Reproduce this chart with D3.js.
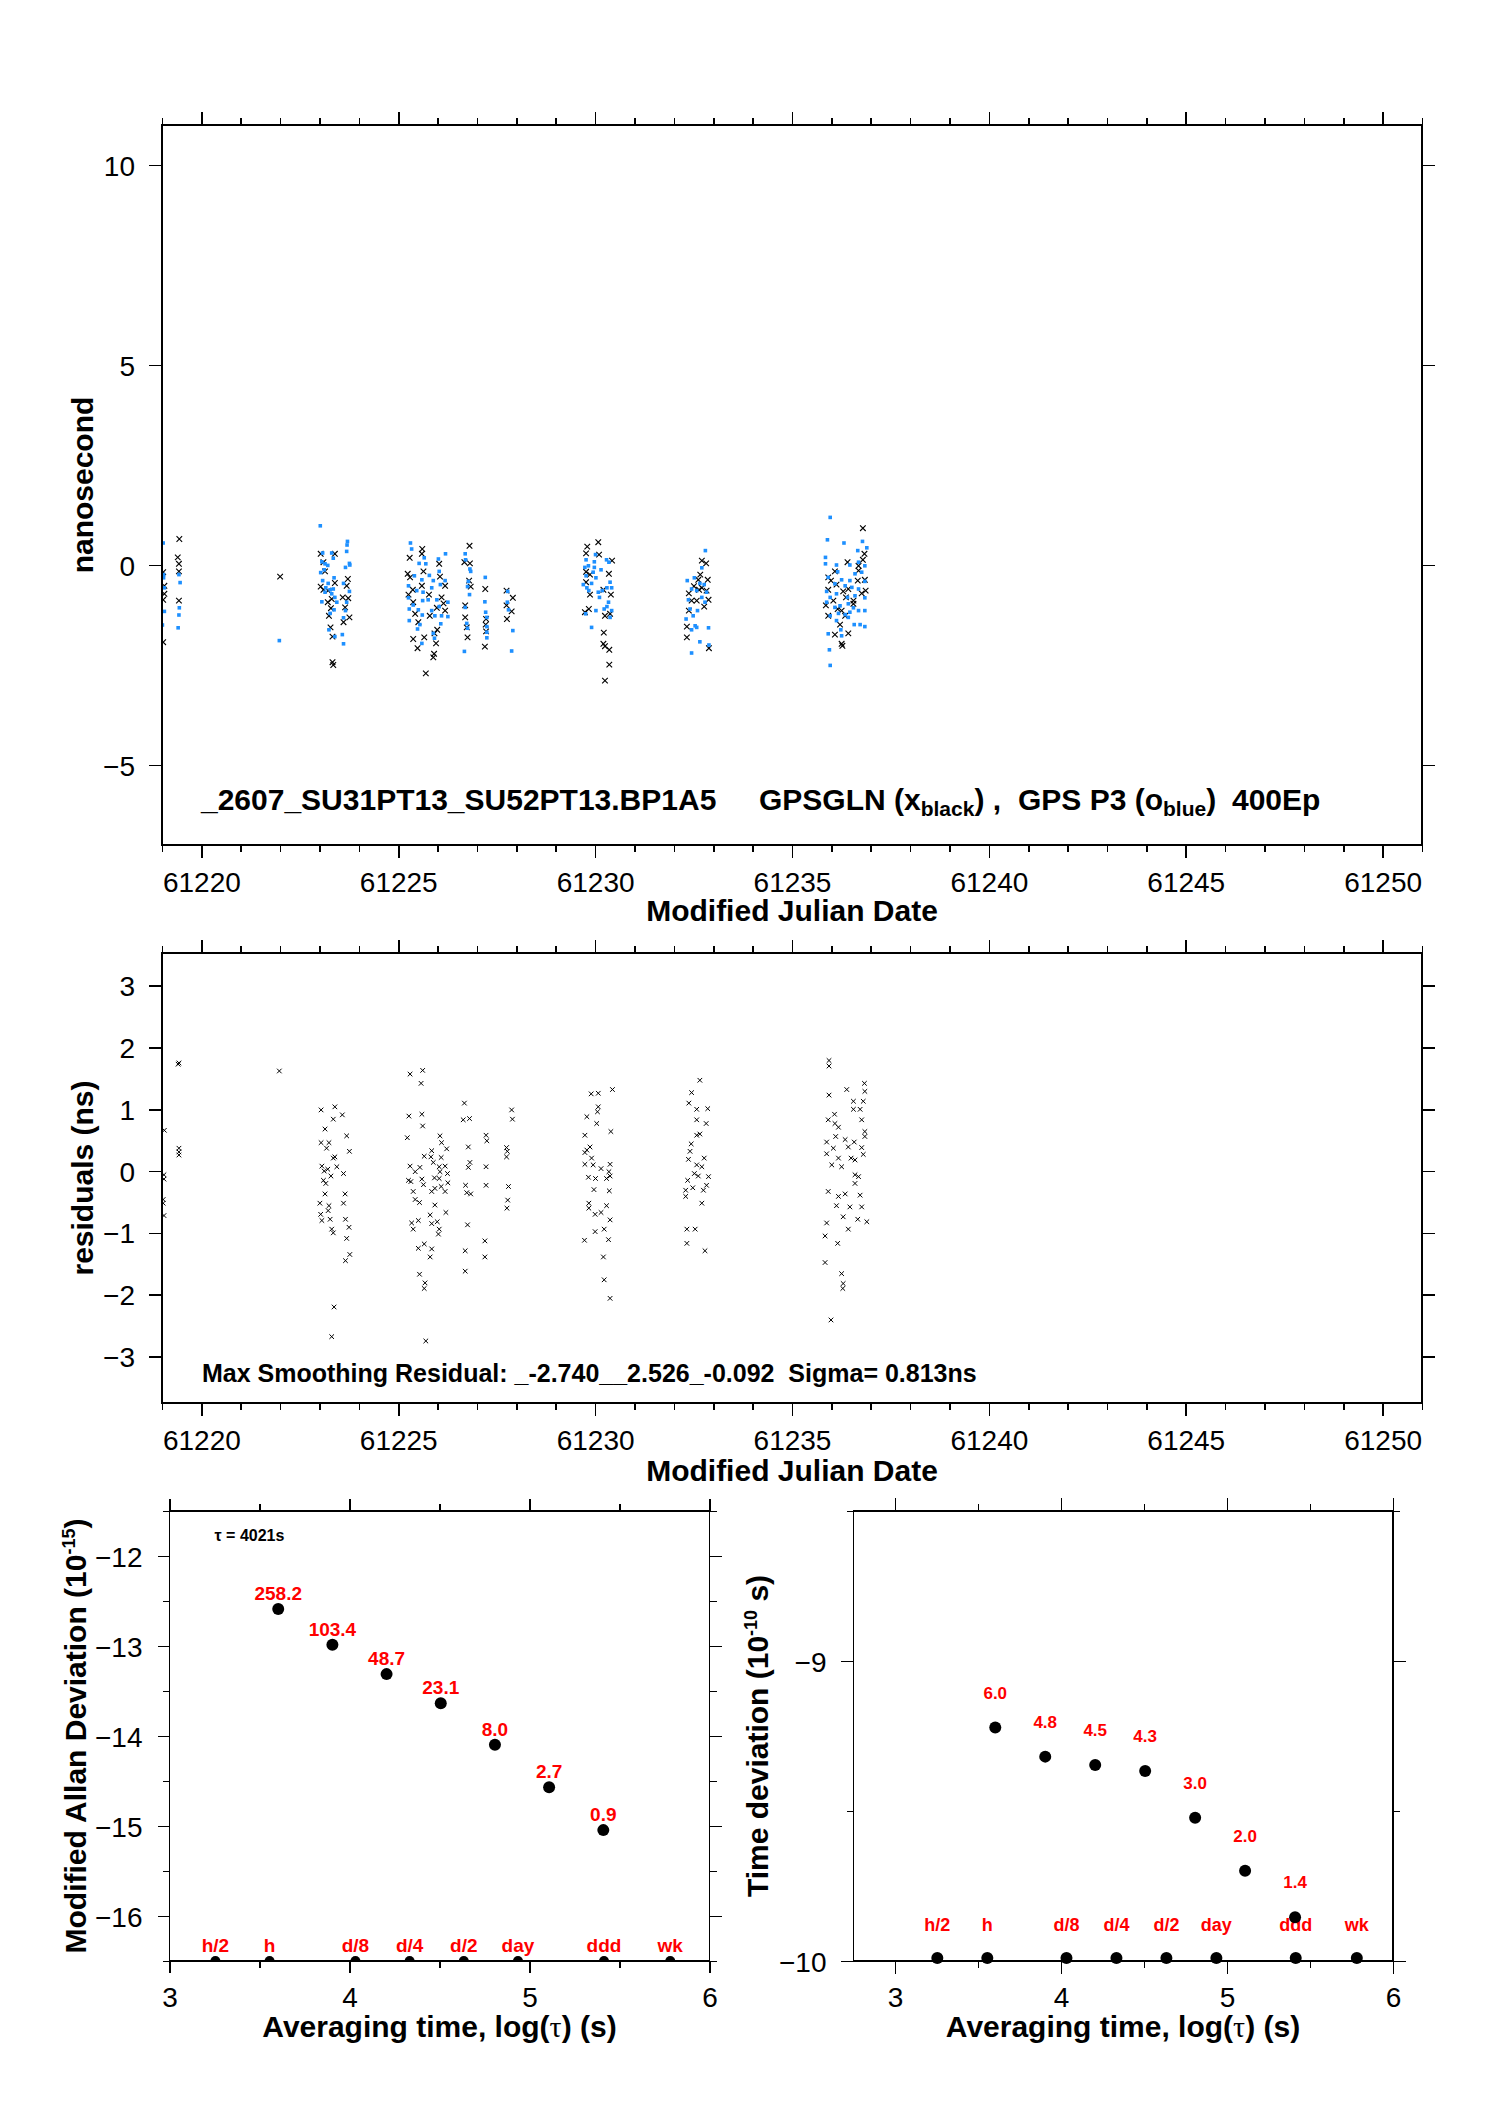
<!DOCTYPE html>
<html>
<head>
<meta charset="utf-8">
<title>GPSGLN vs GPS P3</title>
<script src="https://cdn.jsdelivr.net/npm/d3@7"></script>
<style>
  body { margin: 0; background: #fff; }
  text { font-family: "Liberation Sans", Arial, Helvetica, sans-serif; }
</style>
</head>
<body>
<svg></svg>
<script>
const width = 1488;
const height = 2105;
const font = '"Liberation Sans", Arial, Helvetica, sans-serif';

// top panel, GPSGLN (black x) : [MJD, ns]
const glnPts = [
  [61219.03,-0.18],[61219.06,-0.52],[61219.06,-0.72],[61219.03,-0.87],[61219.03,-1.93],
  [61219.44,0.65],[61219.40,0.19],[61219.43,0.03],[61219.43,-0.16],[61219.43,-0.89],
  [61222.00,-0.29],
  [61223.03,0.28],[61223.39,0.28],[61223.10,0.07],[61223.14,-0.16],[61223.39,-0.45],[61223.03,-0.54],
  [61223.10,-0.62],[61223.22,-0.64],[61223.31,-0.85],[61223.21,-0.93],[61223.29,-1.08],[61223.24,-1.27],
  [61223.28,-1.56],[61223.33,-1.79],[61223.33,-2.43],[61223.35,-2.50],[61223.72,-0.35],[61223.69,-0.52],
  [61223.59,-0.81],[61223.73,-0.83],[61223.65,-1.06],[61223.76,-1.31],[61223.61,-1.43],
  [61225.61,0.40],[61225.60,0.28],[61225.29,0.18],[61226.04,0.03],[61225.64,-0.16],[61225.24,-0.22],
  [61225.30,-0.31],[61225.60,-0.52],[61225.37,-0.62],[61225.78,-0.74],[61226.06,-0.29],[61226.19,-0.52],
  [61225.26,-0.74],[61225.38,-0.93],[61225.43,-1.22],[61225.80,-1.27],[61225.51,-1.43],[61226.15,-0.96],
  [61226.19,-1.14],[61225.98,-1.07],[61226.10,-0.81],[61225.99,-1.62],[61225.92,-1.71],[61225.38,-1.85],
  [61225.49,-2.08],[61225.66,-1.81],[61225.96,-1.96],[61225.91,-2.22],[61225.89,-2.31],[61225.70,-2.71],
  [61226.81,0.48],[61226.68,0.07],[61226.82,0.04],[61226.80,-0.39],[61226.84,-0.54],[61226.70,-1.01],
  [61226.70,-1.31],[61226.74,-1.56],[61226.76,-1.81],
  [61227.21,-0.60],[61227.23,-1.35],[61227.22,-1.49],[61227.23,-1.66],[61227.20,-2.04],
  [61227.75,-0.64],[61227.91,-0.82],[61227.75,-1.01],[61227.88,-1.16],[61227.76,-1.35],
  [61229.80,0.46],[61230.08,0.57],[61229.77,0.29],[61230.10,0.26],[61230.43,0.11],[61229.77,-0.17],
  [61229.87,-0.24],[61230.35,-0.22],[61229.77,-0.43],[61229.87,-0.74],[61230.40,-0.74],[61230.21,-0.62],
  [61229.84,-1.10],[61229.74,-1.18],[61230.25,-1.27],[61230.38,-1.22],[61230.22,-1.69],[61230.21,-1.97],
  [61230.25,-2.03],[61230.36,-2.12],[61230.36,-2.49],[61230.25,-2.89],
  [61232.71,0.11],[61232.82,0.04],[61232.67,-0.24],[61232.62,-0.37],[61232.86,-0.37],[61232.51,-0.53],
  [61232.64,-0.62],[61232.71,-0.57],[61232.38,-0.71],[61232.45,-0.89],[61232.58,-0.89],[61232.88,-0.87],
  [61232.83,-0.64],[61232.77,-1.04],[61232.38,-1.14],[61232.33,-1.54],[61232.33,-1.81],[61232.89,-2.08],
  [61236.80,0.92],[61236.84,0.28],[61236.80,0.13],[61236.41,0.07],[61236.69,-0.02],[61236.09,-0.16],
  [61236.69,-0.14],[61236.85,-0.37],[61235.92,-0.31],[61235.99,-0.39],[61236.13,-0.49],[61236.67,-0.39],
  [61236.30,-0.66],[61236.43,-0.60],[61236.87,-0.64],[61235.92,-0.62],[61236.37,-0.81],[61236.56,-0.89],
  [61236.77,-0.71],[61236.05,-0.89],[61235.86,-1.01],[61236.16,-1.10],[61236.56,-0.97],[61236.26,-1.14],
  [61235.92,-1.27],[61236.35,-1.27],[61236.22,-1.49],[61236.43,-1.71],[61236.26,-1.97],[61236.28,-2.02],
  [61236.09,-1.74]
];

// top panel, GPS P3 (blue o) : [MJD, ns]
const p3Pts = [
  [61219.03,0.55],[61219.04,-0.24],[61219.04,-0.32],[61219.06,-0.57],[61219.06,-1.16],[61219.01,-1.50],
  [61219.43,-0.24],[61219.46,-0.44],[61219.44,-1.07],[61219.43,-1.25],[61219.41,-1.57],
  [61221.98,-1.89],
  [61223.02,0.98],[61223.08,0.30],[61223.31,0.30],[61223.35,0.17],[61223.06,0.08],[61223.14,0.03],
  [61223.21,-0.01],[61223.03,-0.19],[61223.12,-0.12],[61223.37,-0.32],[61223.08,-0.39],[61223.22,-0.46],
  [61223.16,-0.57],[61223.27,-0.62],[61223.35,-0.60],[61223.14,-0.68],[61223.31,-0.72],[61223.39,-0.81],
  [61223.06,-0.92],[61223.44,-0.93],[61223.37,-1.12],[61223.27,-1.21],[61223.24,-1.62],[61223.39,-1.79],
  [61223.71,0.59],[61223.70,0.50],[61223.69,0.34],[61223.76,0.04],[61223.66,-0.06],[61223.77,0.00],
  [61223.61,-0.46],[61223.76,-0.66],[61223.69,-0.93],[61223.66,-1.14],[61223.61,-1.32],[61223.58,-1.74],
  [61223.61,-1.97],
  [61225.31,0.55],[61225.34,0.40],[61225.66,0.18],[61225.70,0.03],[61225.53,0.04],[61226.02,0.15],
  [61226.20,0.28],[61226.04,-0.16],[61225.41,-0.27],[61225.60,-0.37],[61225.79,-0.26],[61225.89,-0.39],
  [61225.26,-0.52],[61225.47,-0.64],[61225.63,-0.68],[61225.85,-0.57],[61226.07,-0.49],[61226.19,-0.39],
  [61225.26,-0.82],[61225.38,-1.00],[61225.62,-0.89],[61225.76,-0.87],[61225.98,-0.87],[61226.04,-1.04],
  [61226.26,-0.93],[61225.28,-1.10],[61225.51,-1.12],[61225.61,-1.25],[61225.85,-1.14],[61225.93,-1.27],
  [61226.10,-1.27],[61226.26,-1.29],[61225.28,-1.39],[61225.55,-1.49],[61225.49,-1.60],[61225.89,-1.71],
  [61225.92,-1.83],[61225.60,-1.96],[61226.08,-1.47],
  [61226.70,0.28],[61226.71,0.13],[61226.82,-0.10],[61226.84,-0.16],[61226.78,-0.41],[61226.76,-0.54],
  [61226.81,-0.74],[61226.70,-1.06],[61226.74,-1.46],[61226.76,-1.58],[61226.68,-2.16],
  [61227.21,-0.31],[61227.20,-0.92],[61227.22,-1.18],[61227.25,-1.31],[61227.25,-1.54],[61227.25,-1.68],
  [61227.25,-1.82],
  [61227.78,-0.66],[61227.77,-0.93],[61227.80,-1.12],[61227.91,-1.64],[61227.88,-2.15],
  [61229.77,0.13],[61229.83,-0.02],[61229.98,0.08],[61229.98,-0.06],[61229.74,-0.06],[61230.01,0.26],
  [61230.29,0.13],[61230.35,0.07],[61229.95,-0.18],[61229.77,-0.27],[61230.15,-0.12],[61230.02,-0.32],
  [61229.91,-0.46],[61230.38,-0.43],[61229.70,-0.49],[61229.79,-0.57],[61229.84,-0.64],[61230.08,-0.68],
  [61230.18,-0.64],[61230.30,-0.57],[61230.42,-0.57],[61230.11,-0.81],[61230.34,-0.93],[61230.23,-1.10],
  [61230.42,-1.14],[61229.76,-1.22],[61230.02,-1.14],[61230.38,-1.31],[61229.91,-1.56],[61230.30,-1.04],
  [61232.80,0.36],[61232.71,-0.07],[61232.34,-0.39],[61232.52,-0.32],[61232.66,-0.46],[61232.77,-0.49],
  [61232.45,-0.60],[61232.58,-0.64],[61232.83,-0.68],[61232.37,-0.87],[61232.71,-0.81],[61232.79,-0.93],
  [61232.41,-1.10],[61232.60,-1.14],[61232.49,-1.27],[61232.31,-1.35],[61232.54,-1.52],[61232.45,-1.62],
  [61232.58,-1.56],[61232.88,-1.57],[61232.66,-1.92],[61232.45,-2.20],[61232.89,-2.00],
  [61235.97,1.19],[61235.90,0.63],[61236.32,0.55],[61236.79,0.59],[61236.90,0.43],[61236.67,0.36],
  [61235.85,0.19],[61235.85,0.03],[61236.13,0.00],[61236.16,-0.17],[61236.47,0.00],[61236.69,0.07],
  [61236.85,-0.02],[61235.92,-0.31],[61236.26,-0.37],[61236.47,-0.39],[61236.60,-0.22],[61236.77,-0.18],
  [61236.85,-0.41],[61236.09,-0.47],[61236.35,-0.52],[61236.52,-0.56],[61236.69,-0.60],[61235.88,-0.66],
  [61235.97,-0.81],[61236.13,-0.72],[61236.41,-0.81],[61236.60,-0.77],[61236.85,-0.82],[61235.88,-0.93],
  [61236.09,-1.06],[61236.22,-1.02],[61236.43,-0.97],[61236.56,-1.07],[61236.69,-1.14],[61236.85,-1.14],
  [61235.97,-1.27],[61236.18,-1.21],[61236.35,-1.24],[61236.47,-1.18],[61236.43,-1.31],[61236.13,-1.39],
  [61236.24,-1.62],[61236.58,-1.49],[61236.73,-1.49],[61236.85,-1.54],[61235.92,-1.72],[61236.26,-1.77],
  [61235.95,-2.12],[61235.97,-2.51]
];

// second panel, smoothing residuals : [MJD, ns]
const resPts = [
  [61219.06,0.66],[61219.05,-0.06],[61219.05,-0.13],[61219.03,-0.46],[61219.03,-0.52],[61219.05,-0.72],
  [61219.43,1.75],[61219.41,1.73],[61219.43,0.37],[61219.43,0.31],[61219.43,0.26],
  [61221.98,1.62],
  [61223.04,0.99],[61223.39,1.04],[61223.58,0.91],[61223.35,0.84],[61223.14,0.68],[61223.69,0.57],
  [61223.04,0.46],[61223.24,0.46],[61223.18,0.37],[61223.76,0.32],[61223.39,0.23],[61223.35,0.21],
  [61223.06,0.08],[61223.21,0.03],[61223.44,0.07],[61223.12,0.00],[61223.29,-0.08],[61223.61,-0.04],
  [61223.10,-0.15],[61223.16,-0.20],[61223.14,-0.37],[61223.65,-0.37],[61223.01,-0.52],[61223.24,-0.56],
  [61223.61,-0.52],[61223.22,-0.64],[61223.03,-0.70],[61223.06,-0.80],[61223.27,-0.78],[61223.66,-0.78],
  [61223.31,-0.94],[61223.35,-1.00],[61223.75,-0.91],[61223.69,-1.09],[61223.77,-1.35],[61223.66,-1.45],
  [61223.37,-2.20],[61223.31,-2.68],
  [61225.30,1.57],[61225.62,1.63],[61225.58,1.42],[61225.27,0.89],[61225.60,0.92],[61225.62,0.73],
  [61225.23,0.54],[61226.06,0.57],[61226.10,0.46],[61226.23,0.36],[61225.85,0.33],[61225.66,0.24],
  [61225.83,0.23],[61226.09,0.22],[61225.30,0.08],[61225.55,0.06],[61225.89,0.14],[61226.04,0.07],
  [61226.19,0.08],[61225.43,-0.01],[61226.06,-0.01],[61226.25,-0.04],[61225.26,-0.15],[61225.32,-0.17],
  [61225.60,-0.13],[61225.64,-0.22],[61225.92,-0.11],[61226.04,-0.12],[61226.26,-0.19],[61225.85,-0.33],
  [61225.93,-0.28],[61226.09,-0.25],[61226.19,-0.33],[61225.38,-0.33],[61225.43,-0.46],[61225.54,-0.51],
  [61225.93,-0.55],[61226.21,-0.67],[61225.81,-0.71],[61225.99,-0.82],[61225.85,-0.85],[61225.34,-0.84],
  [61225.51,-0.80],[61225.38,-0.94],[61226.04,-0.94],[61226.02,-1.02],[61225.66,-1.18],[61225.51,-1.25],
  [61225.85,-1.26],[61225.81,-1.39],[61225.54,-1.67],[61225.68,-1.81],[61225.66,-1.90],[61225.70,-2.75],
  [61226.68,1.10],[61226.65,0.83],[61226.81,0.85],[61226.78,0.39],[61226.82,0.14],[61226.78,0.06],
  [61226.71,-0.23],[61226.74,-0.35],[61226.84,-0.37],[61226.76,-0.87],[61226.70,-1.29],[61226.70,-1.62],
  [61227.23,0.58],[61227.25,0.49],[61227.23,0.07],[61227.23,-0.23],[61227.20,-1.13],[61227.20,-1.39],
  [61227.88,0.99],[61227.90,0.84],[61227.75,0.38],[61227.77,0.32],[61227.75,0.23],[61227.80,-0.25],
  [61227.78,-0.47],[61227.76,-0.60],
  [61229.90,1.25],[61230.08,1.26],[61230.44,1.32],[61230.08,1.04],[61230.06,0.96],[61229.79,0.88],
  [61230.04,0.77],[61230.40,0.64],[61229.74,0.58],[61229.87,0.39],[61229.79,0.34],[61229.74,0.30],
  [61229.91,0.21],[61229.74,0.11],[61229.95,0.10],[61230.15,0.04],[61230.38,0.11],[61230.35,-0.01],
  [61230.38,-0.08],[61229.83,-0.10],[61230.01,-0.12],[61230.29,-0.12],[61229.97,-0.30],[61230.36,-0.32],
  [61229.84,-0.52],[61229.84,-0.60],[61230.00,-0.70],[61230.15,-0.67],[61230.29,-0.56],[61230.38,-0.79],
  [61230.23,-0.94],[61230.00,-0.98],[61229.73,-1.12],[61230.34,-1.11],[61230.21,-1.39],[61230.23,-1.76],
  [61230.38,-2.06],
  [61232.66,1.47],[61232.45,1.27],[61232.38,1.10],[61232.58,1.00],[61232.86,1.01],[61232.58,0.83],
  [61232.82,0.77],[61232.58,0.58],[61232.66,0.60],[61232.44,0.44],[61232.41,0.32],[61232.37,0.19],
  [61232.77,0.21],[61232.58,0.10],[61232.71,0.07],[61232.52,-0.04],[61232.62,-0.08],[61232.88,-0.09],
  [61232.35,-0.15],[61232.48,-0.27],[61232.30,-0.31],[61232.30,-0.41],[61232.75,-0.31],[61232.83,-0.23],
  [61232.71,-0.52],[61232.33,-0.94],[61232.54,-0.94],[61232.33,-1.17],[61232.79,-1.29],
  [61235.94,1.79],[61235.94,1.70],[61235.94,1.23],[61236.39,1.32],[61236.84,1.42],[61236.85,1.29],
  [61236.56,1.13],[61236.81,1.13],[61236.56,1.00],[61236.73,1.00],[61236.77,0.83],[61236.08,0.92],
  [61235.92,0.83],[61236.09,0.77],[61236.18,0.71],[61236.85,0.64],[61236.85,0.56],[61236.11,0.56],
  [61236.35,0.51],[61236.58,0.47],[61235.88,0.47],[61236.05,0.37],[61236.43,0.39],[61236.77,0.38],
  [61235.88,0.28],[61236.18,0.21],[61236.50,0.21],[61236.60,0.18],[61236.81,0.27],[61236.01,0.10],
  [61236.26,0.07],[61236.60,-0.06],[61236.69,-0.09],[61236.60,-0.20],[61236.73,-0.39],[61235.92,-0.33],
  [61236.18,-0.41],[61236.35,-0.37],[61236.13,-0.56],[61236.47,-0.58],[61236.77,-0.58],[61235.88,-0.84],
  [61236.30,-0.74],[61236.43,-0.94],[61236.67,-0.78],[61236.90,-0.82],[61235.84,-1.05],[61236.16,-1.17],
  [61235.84,-1.48],[61236.26,-1.66],[61236.30,-1.82],[61236.29,-1.90],[61235.99,-2.41]
];

const mjdMajor = [61220, 61225, 61230, 61235, 61240, 61245, 61250];
const mjdMinor = d3.range(61219, 61252);
const nsTicks = [-5, 0, 5, 10];
const resTicks = [-3, -2, -1, 0, 1, 2, 3];

// stability panels
const tauLog = [3.604, 3.905, 4.206, 4.507, 4.808, 5.109, 5.410];
const adevVal = [258.2, 103.4, 48.7, 23.1, 8.0, 2.7, 0.9];   // x 1e-15
const tdevVal = [6.0, 4.8, 4.5, 4.3, 3.0, 2.0, 1.4];         // x 1e-10 s
const refNames = ["h/2", "h", "d/8", "d/4", "d/2", "day", "ddd", "wk"];
const refLog = [3.255, 3.556, 4.033, 4.334, 4.635, 4.936, 5.414, 5.782];
const logMajor = [3, 4, 5, 6];
const logMinor = [3.5, 4.5, 5.5];
const adevMajor = [-16, -15, -14, -13, -12];
const adevMinor = [-16.5, -15.5, -14.5, -13.5, -12.5, -11.5];
const tdevMajor = [-10, -9];
const tdevMinor = [-9.5, -8.5];

let svg = d3.select("svg")
    .attr("width", width)
    .attr("height", height)
    .style("background", "#fff");

function frame(g, x, y, o) {
    const [xl, xr] = x.range();
    const [yb, yt] = y.range();
    g.append("rect")
        .attr("x", xl).attr("y", yt)
        .attr("width", xr - xl).attr("height", yb - yt)
        .attr("fill", "none").attr("stroke", "#000").attr("stroke-width", 1.5)
        .attr("shape-rendering", "crispEdges");

    const put = (axis, tr, vals, len, fmt) => {
        const a = g.append("g")
            .attr("transform", tr)
            .call(axis.tickValues(vals).tickSize(len).tickSizeOuter(0).tickFormat(fmt || (() => "")));
        a.select(".domain").remove();
        a.selectAll(".tick line").attr("stroke-width", 1.7).attr("shape-rendering", "crispEdges");
        a.attr("font-family", font).attr("font-size", 28);
        return a;
    };
    put(d3.axisBottom(x), `translate(0,${yb})`, o.xMinor, 7);
    put(d3.axisTop(x), `translate(0,${yt})`, o.xMinor, 7);
    if (o.yMinor) {
        put(d3.axisLeft(y), `translate(${xl},0)`, o.yMinor, 7);
        put(d3.axisRight(y), `translate(${xr},0)`, o.yMinor, 7);
    }
    put(d3.axisBottom(x), `translate(0,${yb})`, o.xMajor, o.len, d3.format("d"))
        .selectAll("text").attr("y", o.labY).attr("dy", null);
    put(d3.axisTop(x), `translate(0,${yt})`, o.xMajor, o.len);
    put(d3.axisLeft(y), `translate(${xl},0)`, o.yMajor, o.len, d3.format("d"))
        .selectAll("text").attr("x", -27).attr("dy", "0.36em");
    put(d3.axisRight(y), `translate(${xr},0)`, o.yMajor, o.len);
}

function clip(id, x, y) {
    const [xl, xr] = x.range();
    const [yb, yt] = y.range();
    svg.append("clipPath").attr("id", id)
        .append("rect").attr("x", xl).attr("y", yt).attr("width", xr - xl).attr("height", yb - yt);
    return "url(#" + id + ")";
}

function title(x, y, txt, rot) {
    const t = svg.append("text")
        .attr("transform", `translate(${x},${y})` + (rot ? " rotate(-90)" : ""))
        .attr("text-anchor", "middle")
        .attr("font-weight", "bold").attr("font-size", 30);
    return t.text(txt);
}

// ---------- panel 1 : nanosecond ----------
let x1 = d3.scaleLinear().domain([61219, 61251]).range([162, 1422]);
let y1 = d3.scaleLinear().domain([-7, 11]).range([845, 125]);

let g1 = svg.append("g");
let p1 = g1.append("g").attr("clip-path", clip("c1", x1, y1));
p1.selectAll("path.gln")
    .data(glnPts)
    .enter()
    .append("path")
    .attr("class", "gln")
    .attr("transform", d => `translate(${x1(d[0])},${y1(d[1])})`)
    .attr("d", "M-2.8,-2.8L2.8,2.8M-2.8,2.8L2.8,-2.8")
    .attr("stroke", "#000").attr("stroke-width", 1.1).attr("fill", "none");
p1.selectAll("rect.p3")
    .data(p3Pts)
    .enter()
    .append("rect")
    .attr("class", "p3")
    .attr("x", d => x1(d[0]) - 1.8)
    .attr("y", d => y1(d[1]) - 1.8)
    .attr("width", 3.6).attr("height", 3.6)
    .attr("fill", "#1e90ff");
frame(g1, x1, y1, { xMajor: mjdMajor, xMinor: mjdMinor, yMajor: nsTicks, len: 13, labY: 47 });
title(93, 485, "nanosecond", true);
title(792, 921, "Modified Julian Date");

let ann = svg.append("g").attr("font-weight", "bold").attr("font-size", 30);
ann.append("text").attr("x", 201).attr("y", 810).text("_2607_SU31PT13_SU52PT13.BP1A5");
let t2 = ann.append("text").attr("x", 759).attr("y", 810);
t2.append("tspan").text("GPSGLN (x");
t2.append("tspan").attr("dy", 6).attr("font-size", 21).text("black");
t2.append("tspan").attr("dy", -6).text(") ,");
let t3 = ann.append("text").attr("x", 1018).attr("y", 810);
t3.append("tspan").text("GPS P3 (o");
t3.append("tspan").attr("dy", 6).attr("font-size", 21).text("blue");
t3.append("tspan").attr("dy", -6).text(")");
ann.append("text").attr("x", 1232).attr("y", 810).text("400Ep");

// ---------- panel 2 : residuals ----------
let y2 = d3.scaleLinear().domain([-3.754, 3.53]).range([1403, 953]);
let g2 = svg.append("g");
let p2 = g2.append("g").attr("clip-path", clip("c2", x1, y2));
p2.selectAll("path")
    .data(resPts)
    .enter()
    .append("path")
    .attr("transform", d => `translate(${x1(d[0])},${y2(d[1])})`)
    .attr("d", "M-2.3,-2.3L2.3,2.3M-2.3,2.3L2.3,-2.3")
    .attr("stroke", "#000").attr("stroke-width", 1).attr("fill", "none");
frame(g2, x1, y2, { xMajor: mjdMajor, xMinor: mjdMinor, yMajor: resTicks, len: 13, labY: 47 });
title(93, 1178, "residuals (ns)", true);
title(792, 1481, "Modified Julian Date");
svg.append("text").attr("x", 202).attr("y", 1382)
    .attr("font-weight", "bold").attr("font-size", 25)
    .text("Max Smoothing Residual: _-2.740__2.526_-0.092\u00a0\u00a0Sigma= 0.813ns");

// ---------- panel 3 : modified Allan deviation ----------
let xA = d3.scaleLinear().domain([3, 6]).range([169.5, 709.5]);
let yA = d3.scaleLinear().domain([-16.5, -11.5]).range([1961, 1511]);
let gA = svg.append("g");
frame(gA, xA, yA, { xMajor: logMajor, xMinor: logMinor, yMajor: adevMajor, yMinor: adevMinor, len: 12, labY: 46 });
gA.append("g").attr("clip-path", clip("cA", xA, yA))
    .selectAll("circle")
    .data(refLog)
    .enter()
    .append("circle")
    .attr("cx", d => xA(d)).attr("cy", yA(-16.5)).attr("r", 5);
gA.selectAll("text.ref")
    .data(refNames)
    .enter()
    .append("text")
    .attr("class", "ref")
    .attr("x", (d, i) => xA(refLog[i]))
    .attr("y", yA(-16.5) - 9)
    .attr("text-anchor", "middle")
    .attr("font-weight", "bold").attr("font-size", 19).attr("fill", "#ff0000")
    .text(d => d);
gA.selectAll("circle.pt")
    .data(adevVal)
    .enter()
    .append("circle")
    .attr("class", "pt")
    .attr("cx", (d, i) => xA(tauLog[i]))
    .attr("cy", d => yA(Math.log10(d) - 15))
    .attr("r", 6);
gA.selectAll("text.val")
    .data(adevVal)
    .enter()
    .append("text")
    .attr("class", "val")
    .attr("x", (d, i) => xA(tauLog[i]))
    .attr("y", d => yA(Math.log10(d) - 15) - 9)
    .attr("text-anchor", "middle")
    .attr("font-weight", "bold").attr("font-size", 19).attr("fill", "#ff0000")
    .text(d => d.toFixed(1));
gA.append("text").attr("x", xA(3) + 45).attr("y", yA(-11.5) + 30)
    .attr("font-weight", "bold").attr("font-size", 16)
    .text("\u03c4 = 4021s");
let tA = title(86, 1736, "", true);
tA.append("tspan").text("Modified Allan Deviation (10");
tA.append("tspan").attr("dy", -11).attr("font-size", 18).text("-15");
tA.append("tspan").attr("dy", 11).text(")");
let xtA = title(439.5, 2037, "", false);
xtA.append("tspan").text("Averaging time, log(");
xtA.append("tspan").attr("font-family", '"Liberation Serif", serif').attr("font-weight", "normal").text("\u03c4");
xtA.append("tspan").text(") (s)");

// ---------- panel 4 : time deviation ----------
let xT = d3.scaleLinear().domain([2.75, 6]).range([853.5, 1393]);
let yT = d3.scaleLinear().domain([-10, -8.5]).range([1961, 1511]);
let gT = svg.append("g");
frame(gT, xT, yT, { xMajor: logMajor, xMinor: logMinor, yMajor: tdevMajor, yMinor: tdevMinor, len: 13, labY: 46 });
gT.selectAll("circle.ref")
    .data(refLog)
    .enter()
    .append("circle")
    .attr("class", "ref")
    .attr("cx", d => xT(d)).attr("cy", yT(-10) - 3).attr("r", 6);
gT.selectAll("text.ref")
    .data(refNames)
    .enter()
    .append("text")
    .attr("class", "ref")
    .attr("x", (d, i) => xT(refLog[i]))
    .attr("y", yT(-10) - 30)
    .attr("text-anchor", "middle")
    .attr("font-weight", "bold").attr("font-size", 18).attr("fill", "#ff0000")
    .text(d => d);
gT.selectAll("circle.pt")
    .data(tdevVal)
    .enter()
    .append("circle")
    .attr("class", "pt")
    .attr("cx", (d, i) => xT(tauLog[i]))
    .attr("cy", d => yT(Math.log10(d) - 10))
    .attr("r", 6);
gT.selectAll("text.val")
    .data(tdevVal)
    .enter()
    .append("text")
    .attr("class", "val")
    .attr("x", (d, i) => xT(tauLog[i]))
    .attr("y", d => yT(Math.log10(d) - 10) - 29)
    .attr("text-anchor", "middle")
    .attr("font-weight", "bold").attr("font-size", 17).attr("fill", "#ff0000")
    .text(d => d.toFixed(1));
let tT = title(768, 1736, "", true);
tT.append("tspan").text("Time deviation (10");
tT.append("tspan").attr("dy", -11).attr("font-size", 18).text("-10");
tT.append("tspan").attr("dy", 11).text(" s)");
let xtT = title(1123, 2037, "", false);
xtT.append("tspan").text("Averaging time, log(");
xtT.append("tspan").attr("font-family", '"Liberation Serif", serif').attr("font-weight", "normal").text("\u03c4");
xtT.append("tspan").text(") (s)");
</script>
</body>
</html>
